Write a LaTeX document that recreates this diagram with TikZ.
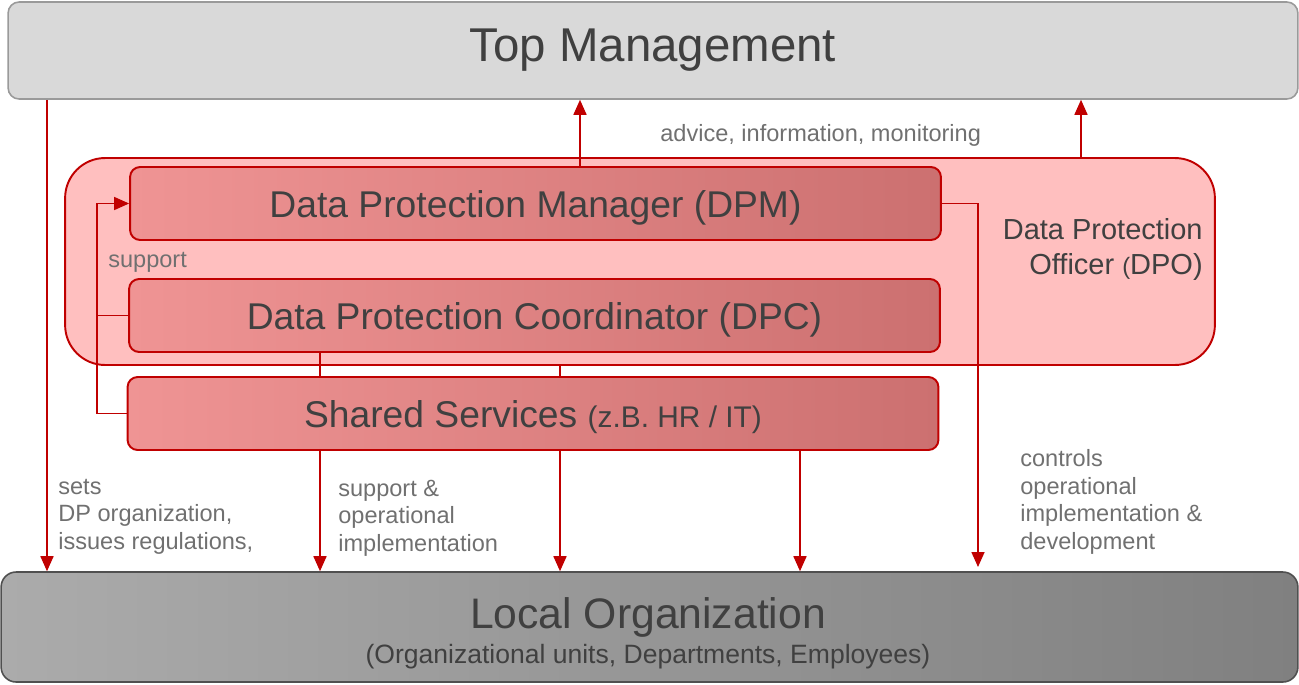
\documentclass[tikz,border=0pt]{standalone}
\usepackage{fontspec}
\setmainfont{Liberation Sans}
\usetikzlibrary{arrows.meta}
\definecolor{dpred}{HTML}{C00000}
\definecolor{dpofill}{HTML}{FFBFBF}
\definecolor{boxleft}{HTML}{EF9494}
\definecolor{boxright}{HTML}{CC7070}
\definecolor{topfill}{HTML}{D9D9D9}
\definecolor{topline}{HTML}{9A9A9A}
\definecolor{locleft}{HTML}{ABABAB}
\definecolor{locright}{HTML}{808080}
\definecolor{locline}{HTML}{505050}
\definecolor{txt}{HTML}{404040}
\definecolor{lblgray}{HTML}{707070}

\begin{document}
\begin{tikzpicture}[x=0.02cm,y=-0.02cm,
  redbox/.style={draw=dpred,line width=1.1pt,rounded corners=0.2cm,left color=boxleft,right color=boxright,minimum width=16.22cm,minimum height=1.46cm,inner sep=0pt,text depth=0pt,text=txt,font=\fontsize{21.2}{25}\selectfont},
  lbl/.style={text=lblgray,font=\fontsize{13.4}{15.6}\selectfont,align=left,inner sep=0pt,anchor=base west},
  conn/.style={draw=dpred,line width=0.9pt},
  arr/.style={conn,-{Triangle[length=0.3cm,width=0.26cm]}}]
  \useasboundingbox (0,0) rectangle (1299,684);
  \node (top) at (653,50.5) [draw=topline,fill=topfill,line width=0.9pt,rounded corners=0.22cm,minimum width=25.8cm,minimum height=1.94cm,text=txt,font=\fontsize{27}{32}\selectfont] {Top Management};
  \node (loc) at (649.5,627) [draw=locline,line width=0.9pt,rounded corners=0.3cm,left color=locleft,right color=locright,minimum width=25.94cm,minimum height=2.2cm] {};
  \node (loctitle) at (648,628) [anchor=base,inner sep=0pt,text=txt,font=\fontsize{24.3}{29}\selectfont] {Local Organization};
  \node (locsub) at (648,663) [anchor=base,inner sep=0pt,text=txt,font=\fontsize{15.1}{18}\selectfont] {(Organizational units, Departments, Employees)};
  \node (dpo) at (640,261.5) [draw=dpred,fill=dpofill,line width=1.1pt,rounded corners=0.8cm,minimum width=23cm,minimum height=4.14cm] {};
  \node (dpolbl) at (1203,274) [anchor=base east,align=right,inner sep=0pt,text=txt,font=\fontsize{16.5}{19.5}\selectfont] {Data Protection\\Officer {\fontsize{13.5}{16}\selectfont(}DPO)};
  \node (dpm) at (535.5,203.5) [redbox] {Data Protection Manager (DPM)};
  \node (dpc) at (534.5,315.5) [redbox] {Data Protection Coordinator (DPC)};
  \node (ss) at (533,413.5) [redbox] {Shared Services {\fontsize{17}{20}\selectfont(z.B. HR / IT)}};
  % up to top management
  \draw[arr] (47,0 |- top.south) -- (47,0 |- loc.north);
  \draw[arr] (580,0 |- dpm.north) -- (580,0 |- top.south);
  \draw[arr] (1081,0 |- dpo.north) -- (1081,0 |- top.south);
  % support loop
  \draw[arr] (ss.west) -| (97,0 |- dpm.west) -- (dpm.west);
  \draw[conn] (dpc.west) -- (97,0 |- dpc.west);
  \draw[conn] (320,0 |- dpc.south) -- (320,0 |- ss.north);
  \draw[conn] (560,0 |- dpo.south) -- (560,0 |- ss.north);
  \foreach \x in {320,560,800}
    \draw[arr] (\x,0 |- ss.south) -- (\x,0 |- loc.north);
  \coordinate (ctl) at (978,567);
  \draw[arr] (dpm.east) -| (ctl);
  % labels
  \node (advlbl) at (660,141) [lbl] {advice, information, monitoring};
  \node (supplbl) at (108,267) [lbl] {support};
  \node (setslbl) at (58,549) [lbl] {sets\\DP organization,\\issues regulations,};
  \node (oplbl) at (338,551) [lbl] {support \&\\operational\\implementation};
  \node (ctllbl) at (1020,549) [lbl] {controls\\operational\\implementation \&\\development};
\end{tikzpicture}
\end{document}
